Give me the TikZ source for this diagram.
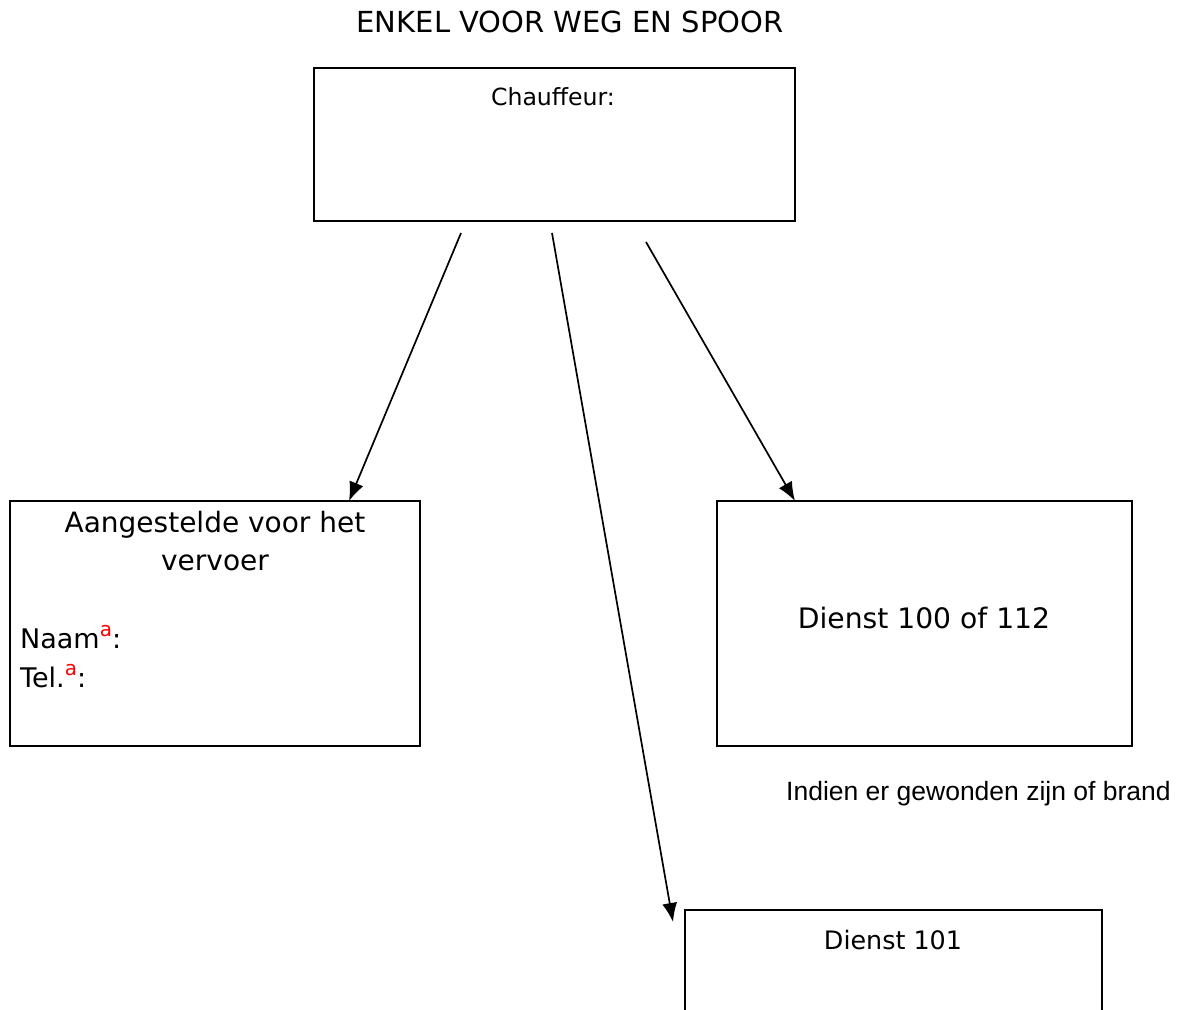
\documentclass[tikz,border=0pt]{standalone}
\usepackage{fontspec}
\setmainfont{DejaVu Sans}
\newfontfamily\arialfont{Liberation Sans}
\usetikzlibrary{arrows.meta}
\newcommand{\redsup}{\raisebox{0.42em}{\fontsize{20}{20}\selectfont\color{red}a}}
\tikzset{
  box/.style={draw=black, line width=2pt, rectangle, inner sep=0pt},
  arr/.style={line width=1.7pt, -{Latex[length=19pt,width=15pt]}},
  txt/.style={inner sep=0pt, text=black}
}
\begin{document}
\begin{tikzpicture}[x=1pt,y=-1pt]
\useasboundingbox (0,0) rectangle (1182,1009);
\clip (0,0) rectangle (1182,1009);
\fill[white] (0,0) rectangle (1182,1009);
% title
\node[txt, font=\fontsize{29}{33}\selectfont] (title) at (570,22) {ENKEL VOOR WEG EN SPOOR};
% boxes
\node[box, minimum width=481pt, minimum height=153pt] (chauf) at (554.5,144.5) {};
\node[txt, font=\fontsize{23.6}{27}\selectfont] (chauft) at (553,97) {Chauffeur:};
\node[box, minimum width=410pt, minimum height=245pt] (left) at (215,623.5) {};
\node[txt, align=center, font=\fontsize{28}{38}\selectfont] (leftt) at (215,541) {Aangestelde voor het\\vervoer};
\node[txt, align=left, anchor=west, font=\fontsize{27}{39}\selectfont] (naam) at (20,656.5) {Naam\redsup:\\Tel.\redsup:};
\node[box, minimum width=415pt, minimum height=245pt] (right) at (924.5,623.5) {};
\node[txt, font=\fontsize{28.2}{32}\selectfont] (rightt) at (924,618) {Dienst 100 of 112};
\node[box, minimum width=417pt, minimum height=200pt] (bottom) at (893.5,1010) {};
\node[txt, font=\fontsize{25.4}{29}\selectfont] (bottomt) at (893,940) {Dienst 101};
\node[txt, anchor=west, font=\arialfont\fontsize{26.5}{30}\selectfont] (note) at (786,794) {Indien er gewonden zijn of brand};
% connector end points
\coordinate (s1) at (461,233);
\coordinate (s2) at (552,233);
\coordinate (s3) at (646,242);
\coordinate (e1) at (349,501);
\coordinate (e2) at (673,922);
\coordinate (e3) at (795,501);
\draw[arr] (s1) -- (e1);
\draw[arr] (s2) -- (e2);
\draw[arr] (s3) -- (e3);
\end{tikzpicture}
\end{document}
